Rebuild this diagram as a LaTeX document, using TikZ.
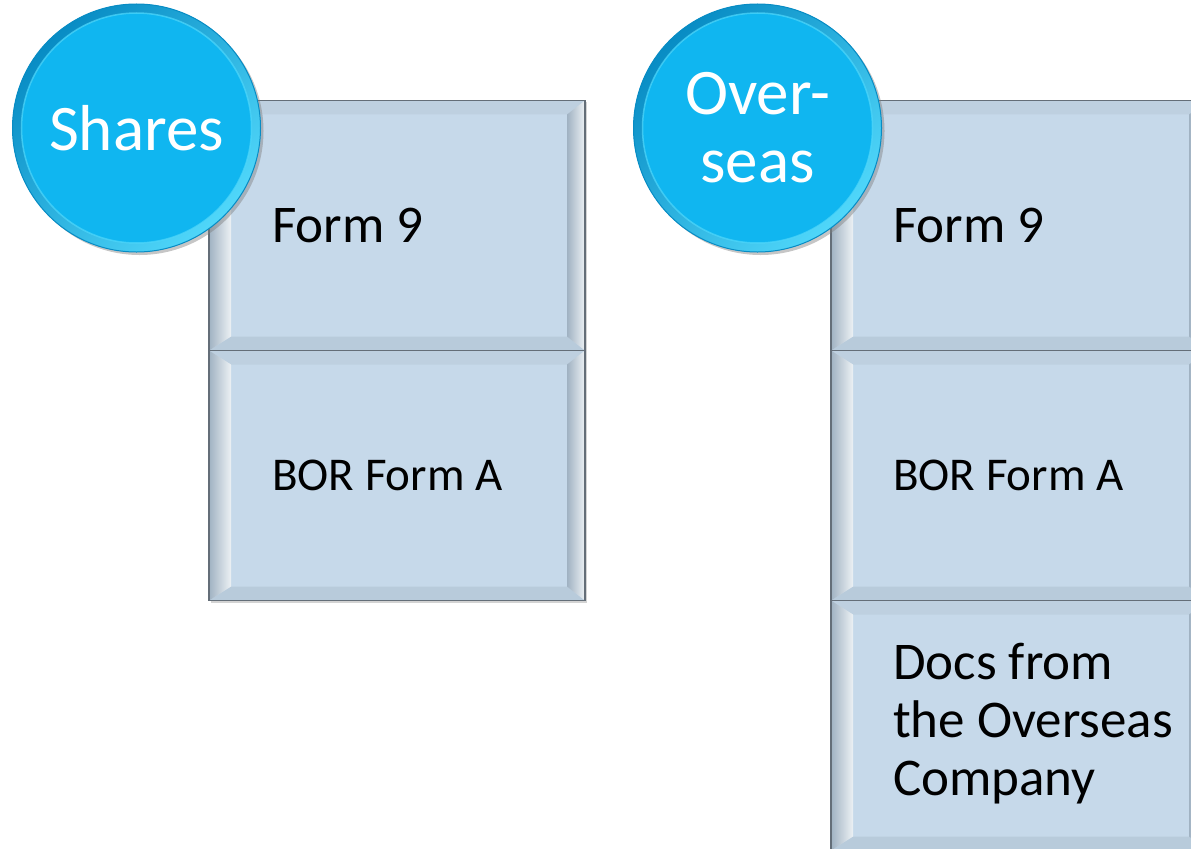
\documentclass[tikz,border=0pt]{standalone}
\usepackage{fontspec}
\setmainfont{Carlito}
\usetikzlibrary{positioning,calc,shadows}

\definecolor{boxface}{RGB}{198,217,234}
\definecolor{boxedge}{RGB}{100,110,120}
\definecolor{bevellight}{RGB}{236,241,244}
\definecolor{beveltop}{RGB}{190,208,224}
\definecolor{bevelbottom}{RGB}{184,203,219}
\definecolor{bevelshade}{RGB}{160,178,194}
\definecolor{discfill}{RGB}{16,182,240}
\definecolor{discrim}{RGB}{8,140,196}
\definecolor{discshine}{RGB}{80,215,250}

\begin{document}
\begin{tikzpicture}[x=1bp, y=-1bp, node distance=250bp]
		\tikzstyle{formbox}=[rectangle, draw=boxedge, line width=1.2bp, fill=boxface,
			minimum width=376bp, minimum height=250bp, inner sep=0pt, outer sep=0pt,
			drop shadow={shadow xshift=2bp, shadow yshift=-2bp, opacity=0.35},
			path picture={
				\coordinate (nw) at (path picture bounding box.north west);
				\coordinate (ne) at (path picture bounding box.north east);
				\coordinate (sw) at (path picture bounding box.south west);
				\coordinate (se) at (path picture bounding box.south east);
				\fill[beveltop] (nw) -- (ne) -- ($(ne)+(-18bp,-14bp)$) -- ($(nw)+(22bp,-14bp)$) -- cycle;
				\fill[bevelbottom] (se) -- (sw) -- ($(sw)+(22bp,14bp)$) -- ($(se)+(-18bp,14bp)$) -- cycle;
				\shade[left color=bevelshade, right color=bevellight] (sw) -- (nw) -- ($(nw)+(22bp,-14bp)$) -- ($(sw)+(22bp,14bp)$) -- cycle;
				\shade[left color=bevelshade, right color=bevellight] (ne) -- (se) -- ($(se)+(-18bp,14bp)$) -- ($(ne)+(-18bp,-14bp)$) -- cycle;
			}]
		\tikzstyle{formtext}=[anchor=west, align=left, inner sep=0pt, text=black,
			font=\fontsize{53bp}{58bp}\selectfont]
		\tikzstyle{disc}=[circle, minimum size=248bp, inner sep=0pt, fill=discfill,
			draw=discrim, line width=1bp, text=white, align=center,
			font=\fontsize{65bp}{68bp}\selectfont,
			drop shadow={shadow xshift=3bp, shadow yshift=-3bp, opacity=0.45},
			path picture={
				\shade[top color=discrim, bottom color=discshine, shading angle=45]
					(path picture bounding box.center) circle (124bp);
				\fill[discfill] (path picture bounding box.center) circle (115bp);
				\draw[discshine, line width=1.5bp, opacity=0.7] (path picture bounding box.center) circle (115bp);
			}]

		\useasboundingbox (0,0) rectangle (1191,849);
		\clip (0,0) rectangle (1191,849);

		% shares column
		\node[formbox] (s1) at (397,225.5) {};
		\node[formbox] (s2) [below of=s1] {};
		\node[formtext] (s1t) at ([xshift=63bp]s1.west) {Form 9};
		\node[formtext, font=\fontsize{47bp}{52bp}\selectfont] (s2t) at ([xshift=63bp]s2.west) {BOR Form A};
		\node[disc] (shares) at (136.5,128) {Shares};

		% overseas column
		\node[formbox] (o1) at (1019,225.5) {};
		\node[formbox] (o2) [below of=o1] {};
		\node[formbox] (o3) [below of=o2] {};
		\node[formtext] (o1t) at ([xshift=62bp]o1.west) {Form 9};
		\node[formtext, font=\fontsize{47bp}{52bp}\selectfont] (o2t) at ([xshift=62bp]o2.west) {BOR Form A};
		\node[formtext] (o3t) at ([xshift=62bp,yshift=2bp]o3.west) {Docs from\\the Overseas\\Company};
		\node[disc] (overseas) at (757.5,128) {Over-\\seas};
	\end{tikzpicture}
\end{document}
